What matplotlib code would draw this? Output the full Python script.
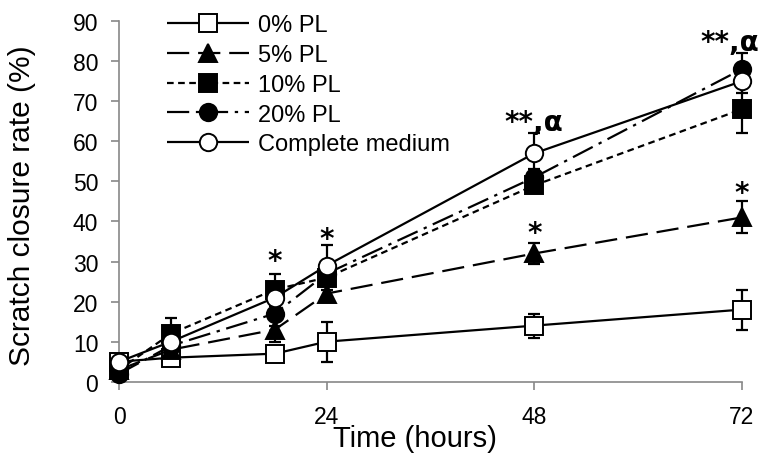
import matplotlib
matplotlib.use('Agg')
import matplotlib.pyplot as plt

plt.rcParams['font.family'] = ['Liberation Sans', 'DejaVu Sans']

hours = [0, 6, 18, 24, 48, 72]

pl0 = [5, 6, 7, 10, 14, 18]
pl0_err = [1, 1, 1, 5, 3, 5]
pl5 = [3, 8, 13, 22, 32, 41]
pl5_err = [1, 2, 3, 2, 2.5, 4]
pl10 = [3, 12, 23, 26, 49, 68]
pl10_err = [1, 4, 4, 3, 2, 6]
pl20 = [2, 9, 17, 27, 51, 78]
pl20_err = [1, 3, 3, 3, 2, 4]
complete = [5, 10, 21, 29, 57, 75]
complete_err = [1, 2, 3, 5, 5, 3]

labels = ['0% PL', '5% PL', '10% PL', '20% PL', 'Complete medium']

# significance marks
marks_x = [18, 24, 48, 72, 48, 72]
marks_y = [30.2, 35.7, 64.7, 84.7, 37.2, 47.2]
marks_txt = ['*', '*', '**,\u03b1', '**,\u03b1', '*', '*']

series = [
    (pl0, pl0_err, 's', 'white', (0, ())),
    (pl5, pl5_err, '^', 'black', (0, (10, 4))),
    (pl10, pl10_err, 's', 'black', (0, (3, 2))),
    (pl20, pl20_err, 'o', 'black', (0, (10, 3, 1.5, 3))),
    (complete, complete_err, 'o', 'white', (0, ())),
]

fig = plt.figure(figsize=(7.64, 4.6), dpi=100)
ax = fig.add_axes([0.156, 0.168, 0.815, 0.784])

for (vals, errs, mk, fc, ls), lab in zip(series, labels):
    ax.errorbar(hours, vals, yerr=errs, fmt='none', ecolor='black',
                elinewidth=1.6, capsize=4, capthick=1.6, clip_on=False, zorder=2)
    ax.plot(hours, vals, color='black', linestyle=ls, linewidth=1.6,
            marker=mk, markersize=12.5 if mk != '^' else 13,
            markerfacecolor=fc, markeredgecolor='black', markeredgewidth=1.4,
            label=lab, clip_on=False, zorder=3)

for x, y, t in zip(marks_x, marks_y, marks_txt):
    # the last label at 72 h sits left of the point so it stays inside the image
    dx = -9 if (x == 72 and len(t) > 1) else 0
    ax.annotate(t, (x, y), xytext=(dx, 0), textcoords='offset points',
                ha='center', va='center', fontsize=20, fontweight='bold',
                family=['DejaVu Sans'], annotation_clip=False)

ax.set_xlim(0, 72)
ax.set_ylim(0, 90)
ax.set_xticks([0, 24, 48, 72])
ax.set_yticks(range(0, 91, 10))

for s in ['top', 'right']:
    ax.spines[s].set_visible(False)
for s in ['left', 'bottom']:
    ax.spines[s].set_color('#888888')
    ax.spines[s].set_linewidth(1.2)
ax.tick_params(axis='both', colors='#888888', labelcolor='black',
               labelsize=16.5, length=6, width=1.2, direction='out')
ax.tick_params(axis='x', pad=11)
ax.tick_params(axis='y', pad=9)

ax.set_xlabel('Time (hours)', fontsize=21)
ax.xaxis.set_label_coords(0.475, -0.118)
ax.set_ylabel('Scratch closure rate (%)', fontsize=21.5)
ax.yaxis.set_label_coords(-0.133, 0.49)

ax.legend(loc='upper left', bbox_to_anchor=(0.061, 1.045), frameon=False,
          fontsize=17, handlelength=3.5, handletextpad=0.35,
          labelspacing=0.33, borderaxespad=0)

fig.savefig('out.png', dpi=100)
